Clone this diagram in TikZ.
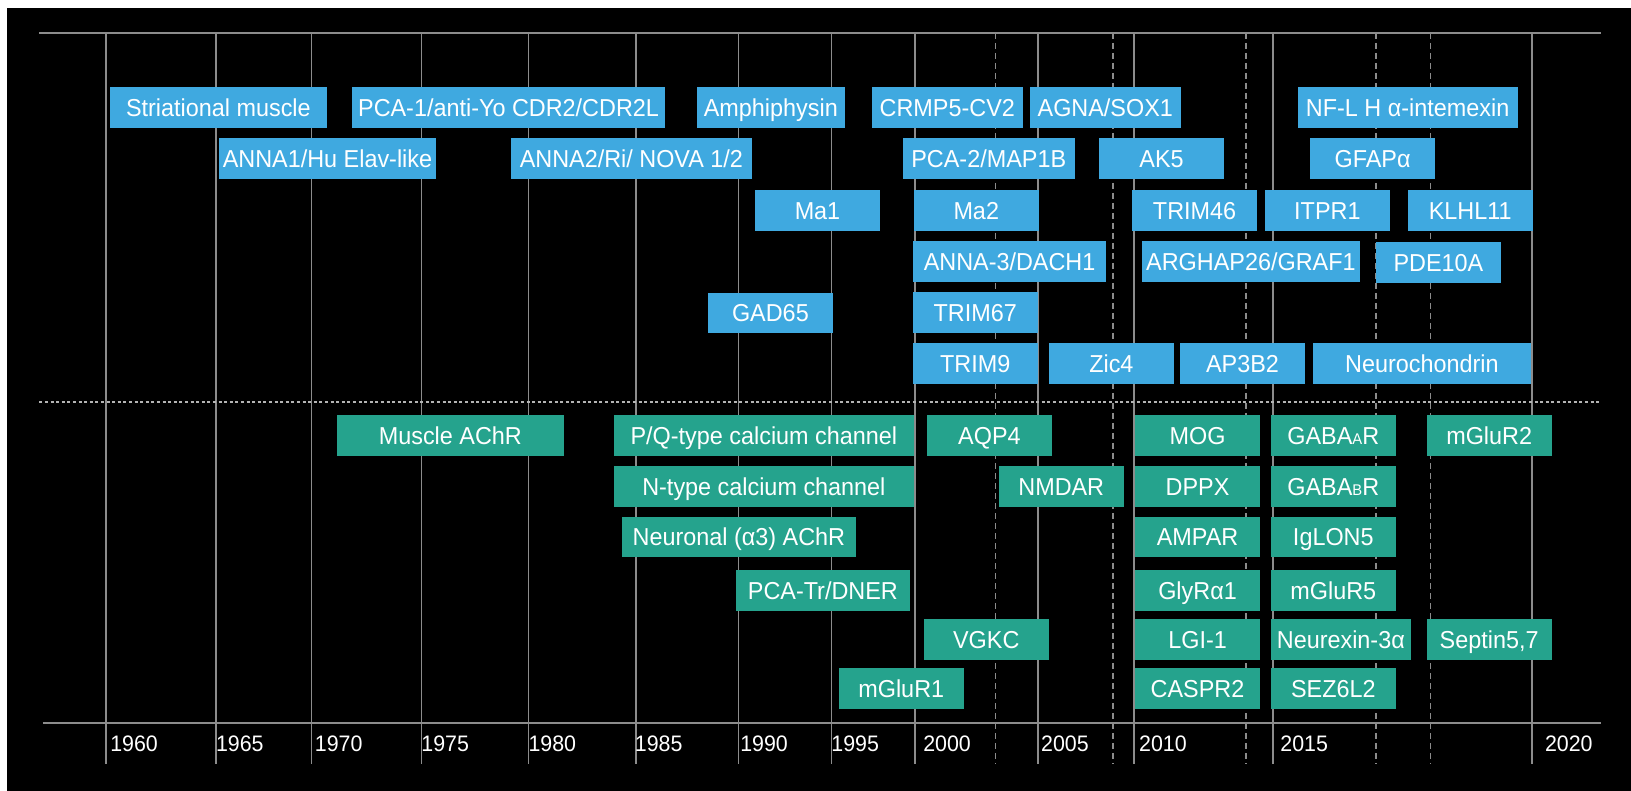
\documentclass[tikz,border=0pt]{standalone}
\usepackage{fontspec}
\setmainfont{Liberation Sans}[FakeStretch=0.955]
\definecolor{bbox}{HTML}{3FA9E0}
\definecolor{gbox}{HTML}{25A38D}
\definecolor{gridc}{HTML}{8C8C8C}
\definecolor{sepc}{HTML}{B4B4B4}
\newcommand\bx[6]{\node[#1, minimum width={#4-#3}] (#2) at ({(#3+#4)/2},#5) {#6};}
\newcommand\smallcap[1]{{\fontsize{15.5}{15.5}\selectfont #1}}
\begin{document}
\begin{tikzpicture}[x=1pt,y=-1pt,
  lab/.style={inner sep=0pt, outer sep=0pt, minimum height=40.5pt, text=white,
    font=\fontsize{24.5}{29}\selectfont, text height=17.5pt, text depth=0pt},
  bl/.style={lab, fill=bbox},
  gr/.style={lab, fill=gbox},
  yr/.style={anchor=west, inner sep=0pt, text=white,
    font=\fontsize{22.4}{26}\selectfont, text height=16pt, text depth=0pt},
  solidline/.style={draw=gridc, line width=1.7pt},
  dashline/.style={draw=gridc, line width=1.4pt, dash pattern=on 6pt off 4pt},
  sepline/.style={draw=sepc, line width=1.7pt, dash pattern=on 3pt off 2.6pt}
]
\useasboundingbox (0,0) rectangle (1631,791);
\fill[white] (0,0) rectangle (1631,791);
\fill[black] (7,8) rectangle (1631,791);

% vertical grid lines
\foreach \x in {106.1,215.7,311.4,421.4,528.6,635.7,738.6,831.4,915,1037.9,1133.8,1273.3,1532.2}
  \draw[solidline] (\x,33) -- (\x,764.3);
\foreach \x in {995.7,1113,1245.8,1375.9,1430.7}
  \draw[dashline] (\x,33) -- (\x,764.3);

% horizontal lines
\coordinate (tl) at (39.3,33);   \coordinate (tr) at (1601,33);
\coordinate (bl0) at (42.9,722.7); \coordinate (br) at (1601,722.7);
\coordinate (sl) at (39.3,402.3); \coordinate (sr) at (1600,402.3);
\draw[solidline] (tl) -- (tr);
\draw[solidline] (bl0) -- (br);
\draw[sepline] (sl) -- (sr);

% years
\foreach \x/\y in {110.1/1960,215.8/1965,314.7/1970,421.2/1975,528.3/1980,634.7/1985,740.1/1990,831.2/1995,923.1/2000,1041/2005,1138.9/2010,1280.2/2015,1544.8/2020}
  \node[yr] (y\y) at (\x,743.5) {\y};

% top section (blue)
\bx{bl}{strm}{110}{326.8}{107.5}{Striational muscle}
\bx{bl}{pca1}{352.1}{665}{107.5}{PCA-1/anti-Yo CDR2/CDR2L}
\bx{bl}{amph}{697.1}{844.6}{107.5}{Amphiphysin}
\bx{bl}{crmp}{872.1}{1022.5}{107.5}{CRMP5-CV2}
\bx{bl}{agna}{1030}{1180.5}{107.5}{AGNA/SOX1}
\bx{bl}{nfl}{1297.8}{1517.5}{107.5}{NF-L H α-intemexin}

\bx{bl}{anna1}{218.9}{436.1}{158.3}{ANNA1/Hu Elav-like}
\bx{bl}{anna2}{511}{751.8}{158.3}{ANNA2/Ri/ NOVA 1/2}
\bx{bl}{pca2}{902.9}{1074.6}{158.3}{PCA-2/MAP1B}
\bx{bl}{ak5}{1099}{1224}{158.3}{AK5}
\bx{bl}{gfap}{1310.2}{1434.9}{158.3}{GFAPα}

\bx{bl}{ma1}{755}{880}{210.3}{Ma1}
\bx{bl}{ma2}{913.9}{1038.6}{210.3}{Ma2}
\bx{bl}{trim46}{1132}{1257.1}{210.3}{TRIM46}
\bx{bl}{itpr1}{1264.8}{1389.9}{210.3}{ITPR1}
\bx{bl}{klhl11}{1407.8}{1532.6}{210.3}{KLHL11}

\bx{bl}{anna3}{913.2}{1106}{261.5}{ANNA-3/DACH1}
\bx{bl}{arghap}{1141.8}{1360}{261.5}{ARGHAP26/GRAF1}
\bx{bl}{pde10a}{1375.9}{1501}{262.3}{PDE10A}

\bx{bl}{gad65}{707.9}{832.9}{312.8}{GAD65}
\bx{bl}{trim67}{912.9}{1037.5}{312.5}{TRIM67}

\bx{bl}{trim9}{912.9}{1037.5}{363.5}{TRIM9}
\bx{bl}{zic4}{1048.9}{1173.8}{363.5}{Zic4}
\bx{bl}{ap3b2}{1180.1}{1304.9}{363.5}{AP3B2}
\bx{bl}{neuroch}{1313}{1530.8}{363.5}{Neurochondrin}

% bottom section (green)
\bx{gr}{machr}{337.1}{563.6}{435.5}{Muscle AChR}
\bx{gr}{pq}{613.9}{913.9}{435.5}{P/Q-type calcium channel}
\bx{gr}{aqp4}{927.1}{1051.8}{435.5}{AQP4}
\bx{gr}{mog}{1135.2}{1259.9}{435.5}{MOG}
\bx{gr}{gabaa}{1271.1}{1395.5}{435.5}{GABA\smallcap{A}R}
\bx{gr}{mglur2}{1426.8}{1551.5}{435.5}{mGluR2}

\bx{gr}{ntype}{613.9}{913.9}{486.3}{N-type calcium channel}
\bx{gr}{nmdar}{998.9}{1123.6}{486.3}{NMDAR}
\bx{gr}{dppx}{1135.2}{1259.9}{486.3}{DPPX}
\bx{gr}{gabab}{1271.1}{1395.5}{486.3}{GABA\smallcap{B}R}

\bx{gr}{nachr}{622.1}{855.7}{537.2}{Neuronal (α3) AChR}
\bx{gr}{ampar}{1135.2}{1259.9}{537.2}{AMPAR}
\bx{gr}{iglon5}{1271.1}{1395.5}{537.2}{IgLON5}

\bx{gr}{pcatr}{736.1}{909.6}{590.3}{PCA-Tr/DNER}
\bx{gr}{glyr}{1135.2}{1259.9}{590.3}{GlyRα1}
\bx{gr}{mglur5}{1271.1}{1395.5}{590.3}{mGluR5}

\bx{gr}{vgkc}{923.9}{1048.6}{639.3}{VGKC}
\bx{gr}{lgi1}{1135.2}{1259.9}{639.3}{LGI-1}
\bx{gr}{neurexin}{1271.1}{1410.6}{639.3}{Neurexin-3α}
\bx{gr}{septin}{1426.8}{1551.5}{639.3}{Septin5,7}

\bx{gr}{mglur1}{838.9}{963.6}{688.3}{mGluR1}
\bx{gr}{caspr2}{1135.2}{1259.9}{688.3}{CASPR2}
\bx{gr}{sez6l2}{1271.1}{1395.5}{688.3}{SEZ6L2}
\end{tikzpicture}
\end{document}
